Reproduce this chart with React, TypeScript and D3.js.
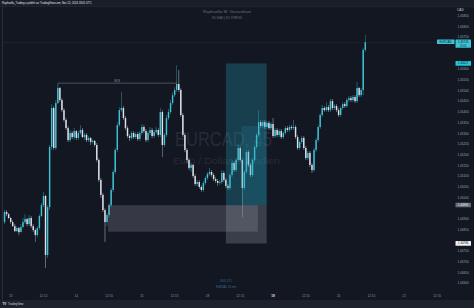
import React from "react";
import * as d3 from "d3";

const firstOpen = 1.44886;
const closes = [
  1.44933, 1.44923, 1.44905, 1.44886, 1.44867, 1.44844, 1.44858, 1.44839, 1.44863, 1.44886,
  1.449, 1.44877, 1.44905, 1.44867, 1.44849, 1.44825, 1.44858, 1.44914, 1.44965, 1.45008,
  1.44732, 1.44956, 1.45237, 1.45419, 1.45232, 1.45442, 1.45512, 1.45456, 1.45409, 1.45363,
  1.45325, 1.45269, 1.45302, 1.45283, 1.45311, 1.45279, 1.45302, 1.45316, 1.45283, 1.45293,
  1.45269, 1.45279, 1.4526, 1.45265, 1.45246, 1.45176, 1.45083, 1.45013, 1.44942, 1.44886,
  1.44919, 1.44965, 1.45036, 1.4512, 1.45223, 1.45339, 1.45409, 1.45419, 1.45372, 1.45325,
  1.45288, 1.45279, 1.45302, 1.45283, 1.45297, 1.45274, 1.45302, 1.4533, 1.45311, 1.45269,
  1.45302, 1.45316, 1.45288, 1.45307, 1.45316, 1.45293, 1.454, 1.45246, 1.45293, 1.45372,
  1.454, 1.45442, 1.45479, 1.45503, 1.45531, 1.45503, 1.45386, 1.45293, 1.45223, 1.45176,
  1.45139, 1.45153, 1.45101, 1.45064, 1.45073, 1.4505, 1.45036, 1.45069, 1.45092, 1.45111,
  1.4512, 1.45106, 1.45087, 1.45078, 1.45069, 1.45073, 1.45115, 1.45083, 1.45055, 1.45045,
  1.45106, 1.45162, 1.45129, 1.45176, 1.45232, 1.45176, 1.45045, 1.4512, 1.45213, 1.45153,
  1.45106, 1.45176, 1.45237, 1.45293, 1.45353, 1.45335, 1.45353, 1.4533, 1.45349, 1.45325,
  1.45344, 1.45288, 1.45316, 1.45293, 1.45311, 1.45283, 1.45302, 1.45325, 1.45316, 1.4533,
  1.45325, 1.4533, 1.45283, 1.45232, 1.4526, 1.45279, 1.45232, 1.45185, 1.45209, 1.45153,
  1.45129, 1.45223, 1.45269, 1.4533, 1.45386, 1.45419, 1.45409, 1.45423, 1.45409, 1.45451,
  1.45419, 1.45428, 1.45409, 1.45386, 1.45419, 1.45437, 1.45428, 1.45456, 1.45465, 1.45456,
  1.4547, 1.45451, 1.45512, 1.45479, 1.45503, 1.4569, 1.45726,
];
const highs = [
  1.44942, 1.44942, 1.44928, 1.44909, 1.44895, 1.44877, 1.44867, 1.44863, 1.44877, 1.44905,
  1.44923, 1.44905, 1.44919, 1.44914, 1.44877, 1.44858, 1.44867, 1.44923, 1.44975, 1.45027,
  1.45013, 1.44965, 1.45246, 1.45437, 1.45428, 1.45456, 1.45535, 1.45517, 1.45465, 1.45419,
  1.45372, 1.45335, 1.45316, 1.45311, 1.45325, 1.45316, 1.45311, 1.45339, 1.45325, 1.45302,
  1.45302, 1.45288, 1.45283, 1.45274, 1.45269, 1.45255, 1.45185, 1.45092, 1.45022, 1.44951,
  1.44928, 1.44975, 1.45045, 1.45129, 1.45232, 1.45353, 1.45423, 1.45493, 1.45428, 1.45381,
  1.45335, 1.45297, 1.45311, 1.45311, 1.45307, 1.45307, 1.45311, 1.45344, 1.45339, 1.45321,
  1.45311, 1.4533, 1.45325, 1.45316, 1.4533, 1.45325, 1.45419, 1.45409, 1.45302, 1.45386,
  1.45414, 1.45456, 1.45493, 1.45517, 1.4562, 1.45596, 1.45512, 1.45395, 1.45302, 1.45232,
  1.45185, 1.45162, 1.45157, 1.45111, 1.45083, 1.45083, 1.45059, 1.45078, 1.45101, 1.4512,
  1.45139, 1.45129, 1.45115, 1.45097, 1.45087, 1.45083, 1.45129, 1.45125, 1.45092, 1.45064,
  1.45115, 1.45176, 1.45171, 1.45185, 1.45246, 1.45241, 1.45185, 1.45129, 1.45223, 1.45223,
  1.45162, 1.45185, 1.45246, 1.45302, 1.45409, 1.45363, 1.45363, 1.45363, 1.45358, 1.45358,
  1.45353, 1.45372, 1.45325, 1.45325, 1.45321, 1.45321, 1.45311, 1.45335, 1.45335, 1.45339,
  1.45339, 1.45363, 1.45339, 1.45293, 1.45269, 1.45288, 1.45288, 1.45241, 1.45218, 1.45218,
  1.45162, 1.45232, 1.45279, 1.45339, 1.45395, 1.45433, 1.45428, 1.45447, 1.45433, 1.45461,
  1.45461, 1.45437, 1.45437, 1.45419, 1.45428, 1.45447, 1.45447, 1.45465, 1.45475, 1.45475,
  1.45479, 1.45479, 1.4554, 1.45517, 1.45512, 1.45699, 1.4576,
];
const lows = [
  1.44877, 1.44914, 1.449, 1.44877, 1.44863, 1.44839, 1.44839, 1.44825, 1.44839, 1.44858,
  1.44877, 1.44867, 1.44867, 1.44858, 1.44839, 1.44793, 1.44816, 1.44849, 1.44909, 1.44956,
  1.44671, 1.44718, 1.44942, 1.45223, 1.45223, 1.45223, 1.45437, 1.45447, 1.454, 1.45353,
  1.45316, 1.4526, 1.4526, 1.45274, 1.45269, 1.45269, 1.45269, 1.45293, 1.45279, 1.45269,
  1.4526, 1.4526, 1.45246, 1.45251, 1.45237, 1.45167, 1.45073, 1.44999, 1.44933, 1.44793,
  1.44867, 1.44909, 1.44956, 1.45027, 1.45111, 1.45213, 1.4533, 1.454, 1.45363, 1.45316,
  1.45279, 1.45265, 1.45269, 1.45274, 1.45274, 1.45265, 1.45265, 1.45293, 1.45302, 1.4526,
  1.4526, 1.45293, 1.45279, 1.45279, 1.45297, 1.45283, 1.45283, 1.4519, 1.45237, 1.45283,
  1.45363, 1.45391, 1.45433, 1.4547, 1.45493, 1.45493, 1.45377, 1.45283, 1.45213, 1.45162,
  1.45129, 1.4512, 1.45092, 1.45055, 1.45055, 1.45041, 1.45027, 1.45027, 1.45059, 1.45083,
  1.45101, 1.45097, 1.45078, 1.45069, 1.45055, 1.45059, 1.45064, 1.45073, 1.45045, 1.45036,
  1.45036, 1.45097, 1.4512, 1.4512, 1.45167, 1.45167, 1.44909, 1.45036, 1.45111, 1.45143,
  1.45097, 1.45097, 1.45167, 1.45227, 1.45283, 1.45325, 1.45325, 1.45321, 1.45321, 1.45316,
  1.45316, 1.45279, 1.45279, 1.45283, 1.45283, 1.45274, 1.45274, 1.45293, 1.45307, 1.45307,
  1.45316, 1.45316, 1.45274, 1.45223, 1.45223, 1.45251, 1.45223, 1.45176, 1.45176, 1.45143,
  1.45115, 1.4512, 1.45213, 1.4526, 1.45321, 1.45377, 1.454, 1.454, 1.454, 1.454,
  1.45409, 1.45409, 1.454, 1.45377, 1.45377, 1.45409, 1.45419, 1.45419, 1.45447, 1.45447,
  1.45447, 1.45442, 1.45442, 1.4547, 1.4547, 1.45479, 1.4568,
];

const priceTicks = [
  1.4585, 1.458, 1.4575, 1.457, 1.4565, 1.456, 1.4555, 1.455, 1.4545, 1.454, 1.4535, 1.453,
  1.4525, 1.452, 1.4515, 1.451, 1.4505, 1.45, 1.4495, 1.449, 1.4485, 1.448, 1.4475, 1.447,
  1.4465, 1.446,
];
const timeTickBars = [3, 19, 35, 51, 67, 83, 99, 115, 131, 147, 163, 179, 195, 211];
const timeTickLabels = ["13", "12:15", "14", "12:15", "15", "12:15", "18", "12:15", "19", "12:15", "20", "12:15", "21", "12:15"];

const symbol = "EURCAD";
const lastPrice = 1.45726;
const targetPrice = 1.45627;
const entryPrice = 1.44965;
const stopPrice = 1.44786;
const zoneLow = 1.44841;
const zoneStartBar = 50.5;
const zoneEndBar = 123.6;
const posStartBar = 108;
const posFilledBar = 115.7;
const posEndBar = 127.9;
const posFilledTop = 1.45335;
const bosPrice = 1.45535;
const bosStartBar = 26;
const bosEndBar = 84;

const UP = "#3fc3d6";
const DOWN = "#dfe2ea";
const FONT = "'Liberation Sans', Arial, sans-serif";

export default function App() {
  const W = 474;
  const H = 308;
  const x = d3.scaleLinear().domain([0, 211]).range([4.55, 437.0]);
  const y = d3.scaleLinear().domain([1.446, 1.4585]).range([283.3, 15.7]);
  const opens = closes.map((c, i) => (i === 0 ? firstOpen : closes[i - 1]));
  const bodyW = 1.45;

  const boxes = [
    { p: targetPrice, fill: "#26c6da", color: "#0b1d22" },
    { p: entryPrice, fill: "#6a6d78", color: "#e8e8ea" },
    { p: stopPrice, fill: "#f0f0f2", color: "#131722" },
  ];
  const hidden = (p: number) =>
    Math.abs(y(p) - y(lastPrice) - 1.5) < 6 || boxes.some((b) => Math.abs(y(p) - y(b.p)) < 5);

  return (
    <div style={{ position: "absolute", left: 0, top: 0, width: W, height: H }}>
      <svg width={W} height={H} style={{ display: "block", fontFamily: FONT }}>
        <rect x={0} y={0} width={W} height={H} fill="#131722" />
        <rect x={0} y={0} width={W} height={6.5} fill="#1a1e29" />
        <line x1={0} x2={W} y1={6.5} y2={6.5} stroke="#2a2e39" strokeWidth={0.5} />
        <rect x={0} y={300} width={W} height={8} fill="#1e222d" />
        <line x1={2.5} x2={2.5} y1={6.5} y2={300} stroke="#2f333e" strokeWidth={0.8} />

        <text x={2} y={4.4} fontSize={2.7} fill="#e6e7ea">
          Raphaella_Trading a publié sur TradingView.com, Nov 22, 2024 18:01 UTC
        </text>

        <text x={227} y={13.2} fontSize={4.3} fill="#6d707a" textAnchor="middle">
          Raphaella M. Vourvahani
        </text>
        <text x={227} y={18.8} fontSize={2.8} fill="#6d707a" textAnchor="middle">
          NO BIAS | NO STRESS
        </text>

        <text x={175} y={146} fontSize={21} fill="#272b37" textLength={97} lengthAdjust="spacingAndGlyphs">
          EURCAD, 45
        </text>
        <text x={173} y={164} fontSize={8.5} fill="#272b37" textLength={107} lengthAdjust="spacingAndGlyphs">
          Euro / Dollar Canadien
        </text>

        {closes.map((c, i) => {
          const o = opens[i];
          const up = c >= o;
          const col = up ? UP : DOWN;
          const top = y(Math.max(o, c));
          const bot = y(Math.min(o, c));
          const cx = x(i);
          return (
            <g key={i}>
              <line x1={cx} x2={cx} y1={y(highs[i])} y2={y(lows[i])} stroke={col} strokeWidth={0.5} opacity={0.85} />
              <rect x={cx - bodyW / 2} y={top} width={bodyW} height={Math.max(0.6, bot - top)} fill={col} />
            </g>
          );
        })}

        <rect
          x={x(zoneStartBar)}
          y={y(entryPrice)}
          width={x(zoneEndBar) - x(zoneStartBar)}
          height={y(zoneLow) - y(entryPrice)}
          fill="rgba(150,153,165,0.27)"
        />
        <rect
          x={x(posStartBar)}
          y={y(targetPrice)}
          width={x(posEndBar) - x(posStartBar)}
          height={y(entryPrice) - y(targetPrice)}
          fill="rgba(38,175,198,0.27)"
        />
        <rect
          x={x(posFilledBar)}
          y={y(posFilledTop)}
          width={x(posEndBar) - x(posFilledBar)}
          height={y(entryPrice) - y(posFilledTop)}
          fill="rgba(38,175,198,0.15)"
        />
        <rect
          x={x(posStartBar)}
          y={y(entryPrice)}
          width={x(posEndBar) - x(posStartBar)}
          height={y(stopPrice) - y(entryPrice)}
          fill="rgba(150,153,165,0.3)"
        />

        <line x1={x(bosStartBar)} x2={x(bosEndBar)} y1={y(bosPrice)} y2={y(bosPrice)} stroke="#8b8e98" strokeWidth={0.5} />
        <text x={(x(bosStartBar) + x(bosEndBar)) / 2} y={y(bosPrice) - 1.2} fontSize={2.6} fill="#9a9da6" textAnchor="middle">
          BOS
        </text>

        <line x1={3} x2={455} y1={y(lastPrice)} y2={y(lastPrice)} stroke="#3fc3d6" strokeWidth={0.4} strokeDasharray="1 1" opacity={0.45} />

        <text x={226} y={281.5} fontSize={2.6} fill="#3d6f9c" textAnchor="middle">18:01 UTC</text>
        <text x={226} y={288.3} fontSize={2.6} fill="#3d6f9c" textAnchor="middle">EURCAD, 45 min</text>

        <text x={457} y={10.5} fontSize={3.2} fill="#c9ccd4">CAD</text>
        {priceTicks.map((p) =>
          hidden(p) ? null : (
            <text key={p} x={457.5} y={y(p) + 1.1} fontSize={3.1} fill="#93a7b0">
              {p.toFixed(5)}
            </text>
          )
        )}

        <rect x={437} y={y(lastPrice) - 2.8} width={17.5} height={4.6} fill="#3fc3d6" rx={0.5} />
        <text x={445.7} y={y(lastPrice) + 0.9} fontSize={2.9} fill="#0b1d22" textAnchor="middle">{symbol}</text>
        <rect x={455.5} y={y(lastPrice) - 2.8} width={15.5} height={8.3} fill="#3fc3d6" rx={0.5} />
        <text x={463.2} y={y(lastPrice) + 0.9} fontSize={2.9} fill="#0b1d22" textAnchor="middle">{lastPrice.toFixed(5)}</text>
        <text x={463.2} y={y(lastPrice) + 4.4} fontSize={2.7} fill="#0b1d22" textAnchor="middle">13:05</text>

        {boxes.map((b) => (
          <g key={b.p}>
            <rect x={455.5} y={y(b.p) - 2.4} width={15.5} height={4.6} fill={b.fill} rx={0.5} />
            <text x={463.2} y={y(b.p) + 1.0} fontSize={2.9} fill={b.color} textAnchor="middle">{b.p.toFixed(5)}</text>
          </g>
        ))}

        {timeTickBars.map((b, i) => (
          <text
            key={b}
            x={x(b)}
            y={297}
            fontSize={3.1}
            fill={timeTickLabels[i] === "19" ? "#e6e8ee" : "#8f96a3"}
            fontWeight={timeTickLabels[i] === "19" ? 700 : 400}
            textAnchor="middle"
          >
            {timeTickLabels[i]}
          </text>
        ))}

        <text x={2.5} y={305.3} fontSize={3} fill="#e6e7ea" fontWeight={700}>TV</text>
        <text x={8} y={305.3} fontSize={2.8} fill="#d6d8de">TradingView</text>
      </svg>
    </div>
  );
}
